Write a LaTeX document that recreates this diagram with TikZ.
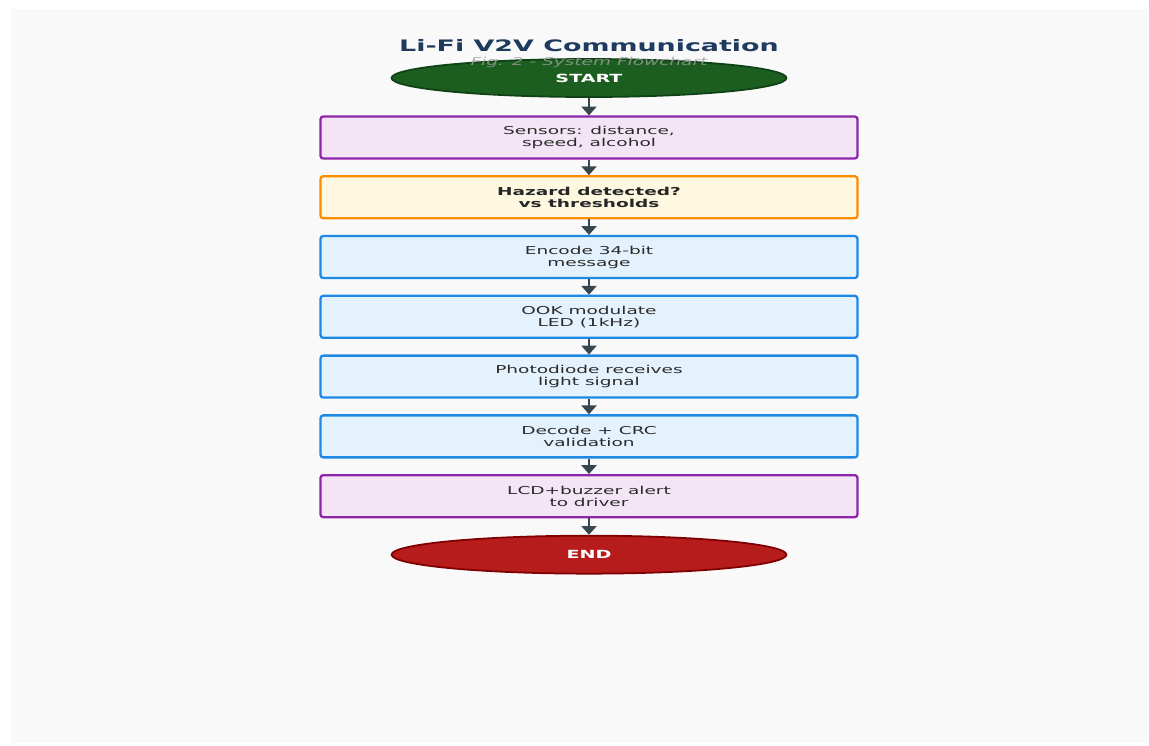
\documentclass[tikz,border=0pt]{standalone}
\usepackage{fontspec}
\setmainfont{DejaVu Sans}[FakeStretch=1.7]
\usetikzlibrary{arrows.meta,chains,positioning,shapes.geometric}
\definecolor{panel}{HTML}{F9F9F9}
\definecolor{titleblue}{HTML}{1F3A5F}
\definecolor{arrowgray}{HTML}{37474F}
\definecolor{txtgray}{HTML}{2B2B2B}
\definecolor{startfill}{HTML}{1B5E20}
\definecolor{startdraw}{HTML}{0F4214}
\definecolor{endfill}{HTML}{B71C1C}
\definecolor{enddraw}{HTML}{7F0000}
\definecolor{sensfill}{HTML}{F3E5F5}
\definecolor{sensdraw}{HTML}{8E24AA}
\definecolor{hazfill}{HTML}{FFF8E1}
\definecolor{hazdraw}{HTML}{FB8C00}
\definecolor{procfill}{HTML}{E3F2FD}
\definecolor{procdraw}{HTML}{1E88E5}

\begin{document}
\begin{tikzpicture}[x=0.02cm, y=-0.02cm,
node distance=3.1mm,
 start chain = F going below,
    T/.style = {ellipse, line width=1pt, text=white,% terminal nodes
                minimum width=7.9cm, minimum height=7.6mm,
                font=\fontsize{6.4}{7}\selectfont\bfseries, on chain},
    B/.style = {rectangle, rounded corners=1.5pt, line width=1.3pt,% process boxes
                minimum width=10.74cm, minimum height=8.4mm,
                align=center, text=txtgray,
                font=\fontsize{6.2}{6.9}\selectfont, on chain},
  arr/.style = {-{Triangle[length=5pt,width=8.5pt]}, line width=1.6pt, arrowgray},
                        ]
\useasboundingbox (0,0) rectangle (1149,745);
\fill[panel] (11,9) rectangle (1147,743);
% flow
\node[T, fill=startfill, draw=startdraw, at={(589,78)}] {START};
\node[B, fill=sensfill, draw=sensdraw, yshift=-0.4mm] {Sensors: distance,\\ speed, alcohol};
\node[B, fill=hazfill, draw=hazdraw, font=\fontsize{6.2}{6.9}\selectfont\bfseries,
      text=black!85] {Hazard detected?\\ vs thresholds};
\foreach \i in {Encode 34-bit\\ message,
                OOK modulate\\ LED (1kHz),
                Photodiode receives\\ light signal,
                Decode + CRC\\ validation}% <-- content of nodes
    \node[B, fill=procfill, draw=procdraw] {\i};
\node[B, fill=sensfill, draw=sensdraw] {LCD+buzzer alert\\ to driver};
\node[T, fill=endfill, draw=enddraw, yshift=-0.2mm] {END};
\foreach \i [count=\j from 2] in {1,...,8}
    \draw[arr] (F-\i) -- (F-\j);
% title
\node[font=\fontsize{9}{10}\selectfont\bfseries, text=titleblue] (title) at (589,46)
      {Li-Fi V2V Communication};
\node[font=\fontsize{6.2}{7}\selectfont\itshape, text=gray!75, opacity=0.8] (sub) at (589,62)
      {Fig. 2 - System Flowchart};
\end{tikzpicture}
\end{document}
